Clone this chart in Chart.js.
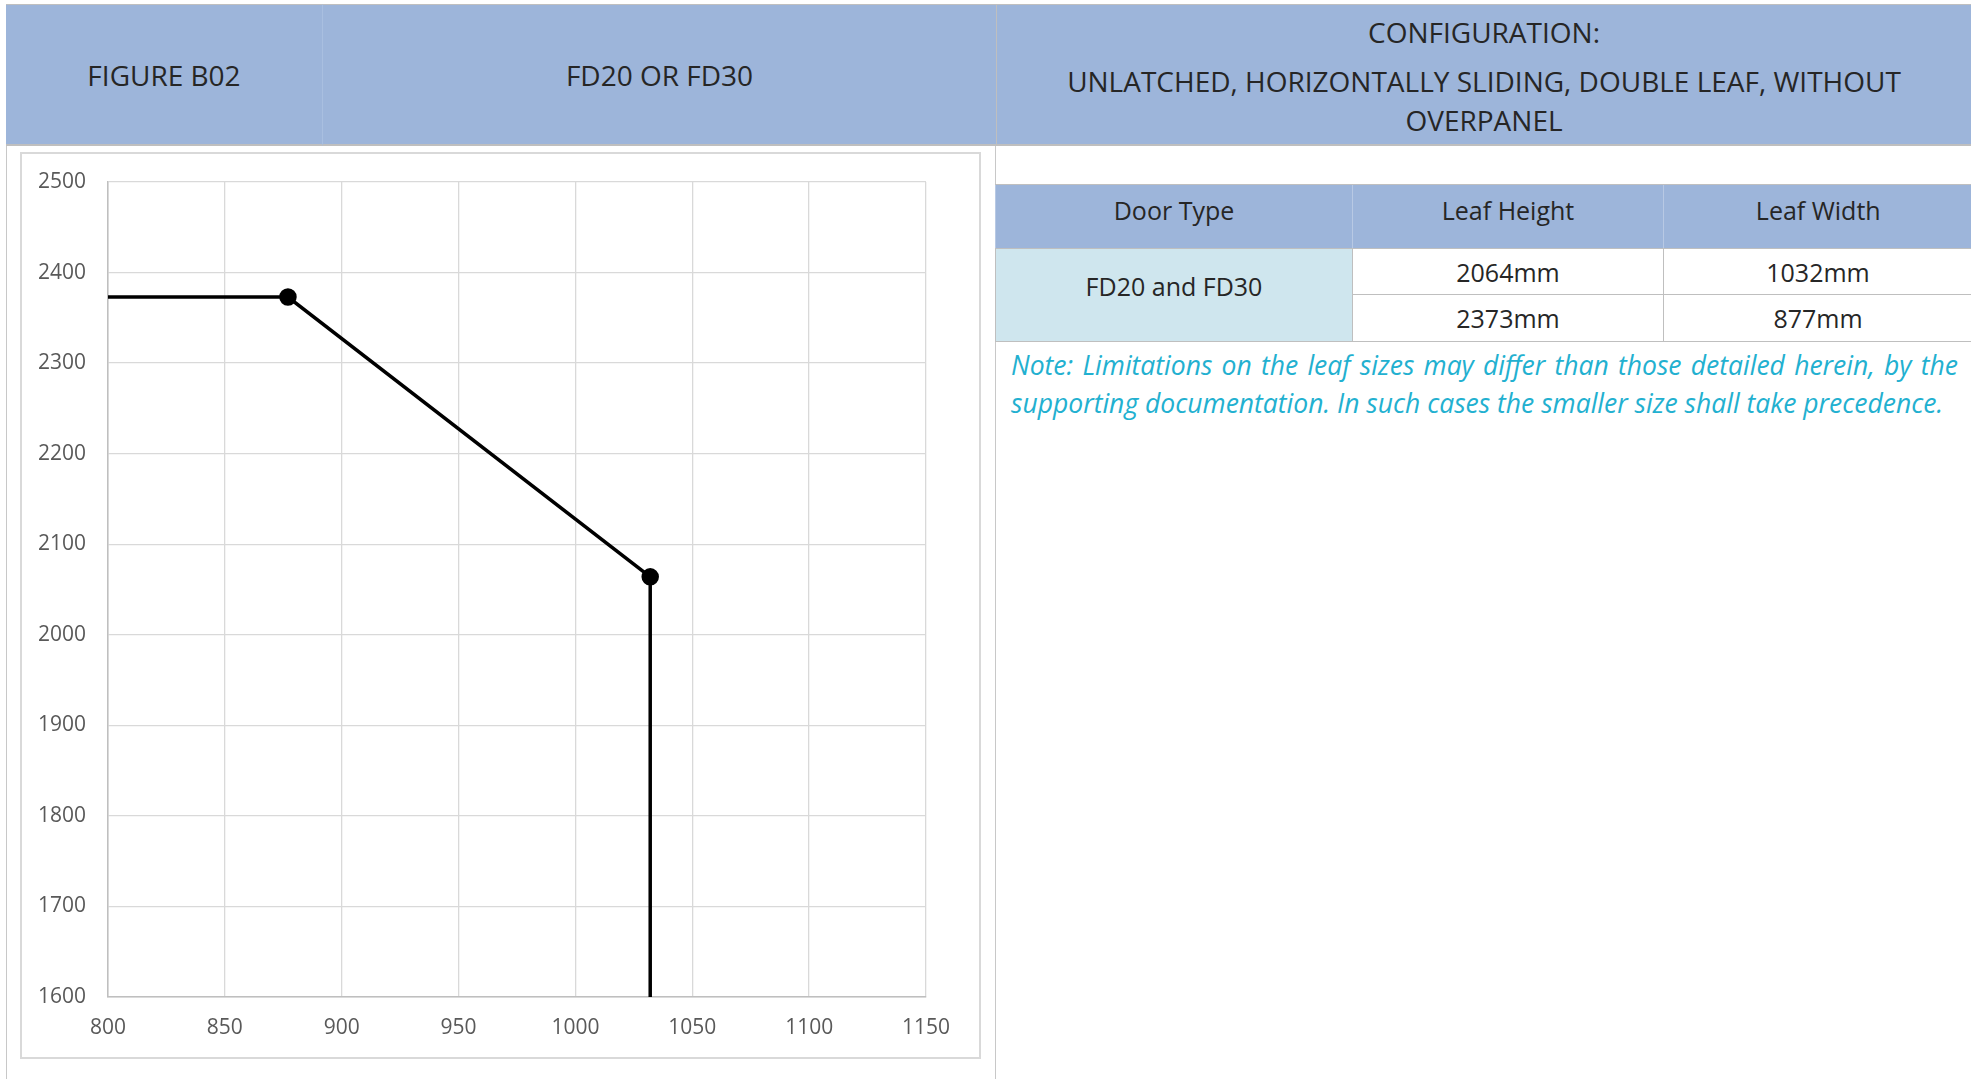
<!DOCTYPE html>
<html>
<head>
<meta charset="utf-8">
<script src="https://cdn.jsdelivr.net/npm/chart.js@4.4.0/dist/chart.umd.min.js"></script>
<style>
  html, body { margin: 0; padding: 0; background: #fff; }
  body { width: 1971px; height: 1079px; position: relative; overflow: hidden; font-family: "Open Sans", sans-serif; color: #262626; }
  .abs { position: absolute; }
  .hdr { background: #9db5da; top: 4px; height: 142px; border-top: 1px solid #bfbfbf; border-bottom: 2px solid #bfbfbf; box-sizing: border-box; }
  .htxt { position: absolute; left: 0; right: 0; text-align: center; font-size: 28px; line-height: 32px; }
  .vline { background: #c8c8c8; width: 1px; }
  #chartBox { left: 20px; top: 152px; width: 961px; height: 907px; border: 2px solid #d9d9d9; box-sizing: border-box; }
  table { border-collapse: collapse; table-layout: fixed; font-size: 25px; }
  td { text-align: center; padding: 0; border: 1px solid #bfbfbf; }
  th { font-weight: normal; background: #9db5da; border-top: 1px solid #bfbfbf; border-bottom: 1px solid #bfbfbf; border-left: 1px solid #b8c9e4; padding: 0 0 14px 0; }
  .note { color: #22b0d0; font-style: italic; font-size: 26.5px; line-height: 37px; left: 1011px; width: 947px; white-space: nowrap; }
</style>
</head>
<body>
<!-- header strip -->
<div class="abs hdr" style="left:6px; width:316px;"><div class="htxt" style="top:54px;" id="figTitle"></div></div>
<div class="abs hdr" style="left:322px; width:674px; border-left:1px solid #a9bfe0;"><div class="htxt" style="top:54px;" id="ratingTitle"></div></div>
<div class="abs hdr" style="left:996px; width:975px; border-left:1px solid #bfbfbf;" id="configBox"></div>

<!-- page lines -->
<div class="abs vline" style="left:6px; top:146px; height:933px;"></div>
<div class="abs vline" style="left:995px; top:146px; height:933px;"></div>

<div class="abs" id="chartBox"><canvas id="chart" width="957" height="903"></canvas></div>

<table class="abs" id="sizeTable" style="left:995px; top:184px; width:977px;">
  <colgroup><col style="width:357px"><col style="width:311px"><col style="width:309px"></colgroup>
</table>

<div class="abs note" style="top:347px; text-align:justify; text-align-last:justify; white-space:normal;" id="note1"></div>
<div class="abs note" style="top:385px;" id="note2"></div>

<script>
// header text
const figureLabel = 'FIGURE B02';
const ratingLabel = 'FD20 OR FD30';
const configLines = ['CONFIGURATION:', 'UNLATCHED, HORIZONTALLY SLIDING, DOUBLE LEAF, WITHOUT', 'OVERPANEL'];

// table contents
const tableHeaders = ['Door Type', 'Leaf Height', 'Leaf Width'];
const doorType = 'FD20 and FD30';
const leafHeights = ['2064mm', '2373mm'];
const leafWidths = ['1032mm', '877mm'];
const noteLines = ['Note: Limitations on the leaf sizes may differ than those detailed herein, by the',
                   'supporting documentation. In such cases the smaller size shall take precedence.'];

// chart data: leaf width (x) against leaf height (y)
const widths = [800, 877, 1032, 1032];
const heights = [2373, 2373, 2064, 1600];
const markerSizes = [0, 7, 7, 0];

// axis ranges
const xTicks = [800, 850, 900, 950, 1000, 1050, 1100, 1150];
const yTicks = [1600, 1700, 1800, 1900, 2000, 2100, 2200, 2300, 2400, 2500];

document.getElementById('figTitle').textContent = figureLabel;
document.getElementById('ratingTitle').textContent = ratingLabel;
const configBox = document.getElementById('configBox');
const configTops = [11, 60, 99];
configLines.forEach((t, i) => {
    const d = document.createElement('div');
    d.className = 'htxt';
    d.style.top = configTops[i] + 'px';
    d.textContent = t;
    configBox.appendChild(d);
});

// build the size table
const table = document.getElementById('sizeTable');
let html = '<tr style="height:64px">' + tableHeaders.map(h => '<th>' + h + '</th>').join('') + '</tr>';
leafHeights.forEach((h, i) => {
    html += '<tr style="height:' + (i === 0 ? 46 : 47) + 'px">';
    if (i === 0) html += '<td rowspan="' + leafHeights.length + '" style="background:#cfe6ee; padding-bottom:18px">' + doorType + '</td>';
    html += '<td>' + h + '</td><td>' + leafWidths[i] + '</td></tr>';
});
table.insertAdjacentHTML('beforeend', html);

document.getElementById('note1').textContent = noteLines[0];
document.getElementById('note2').textContent = noteLines[1];

// chart
const ctx = document.getElementById('chart').getContext('2d');
const tickFont = { family: 'Open Sans', size: 21 };

new Chart(ctx, {
    type: 'scatter',
    data: {
        datasets: [{
            data: widths.map((w, i) => ({ x: w, y: heights[i] })),
            showLine: true,
            borderColor: '#000',
            backgroundColor: '#000',
            borderWidth: 3.5,
            pointRadius: markerSizes,
            pointHoverRadius: markerSizes,
            tension: 0
        }]
    },
    options: {
        responsive: false,
        animation: false,
        layout: { padding: { top: 28, right: 53, bottom: 0, left: 0 } },
        plugins: { legend: { display: false }, tooltip: { enabled: false } },
        scales: {
            x: {
                type: 'linear',
                min: xTicks[0],
                max: xTicks[xTicks.length - 1],
                afterBuildTicks: s => { s.ticks = xTicks.map(v => ({ value: v })); },
                afterFit: s => { s.height = 60; s.paddingLeft = 0; s.paddingRight = 0; },
                grid: { color: '#d9d9d9', lineWidth: 1.3, drawTicks: false },
                border: { color: '#bfbfbf', width: 1.5 },
                ticks: { color: '#595959', font: tickFont, padding: 18, callback: v => v }
            },
            y: {
                type: 'linear',
                min: yTicks[0],
                max: yTicks[yTicks.length - 1],
                afterBuildTicks: s => { s.ticks = yTicks.map(v => ({ value: v })); },
                afterFit: s => { s.width = 86; s.paddingTop = 0; s.paddingBottom = 0; },
                grid: { color: '#d9d9d9', lineWidth: 1.3, drawTicks: false },
                border: { color: '#bfbfbf', width: 1.5 },
                ticks: { color: '#595959', font: tickFont, padding: 22, callback: v => v }
            }
        }
    }
});
</script>
</body>
</html>
